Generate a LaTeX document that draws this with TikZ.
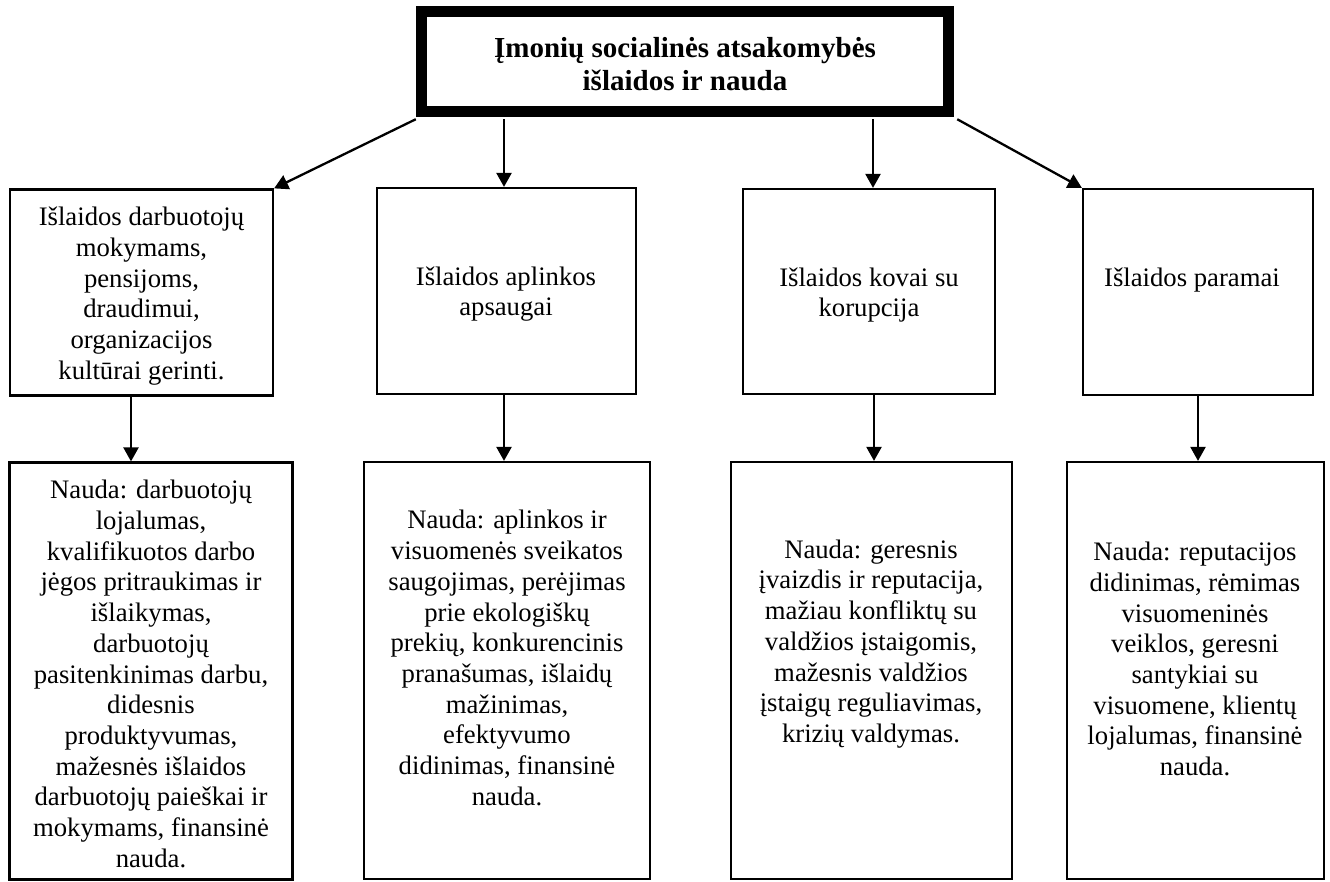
\documentclass[tikz,border=0pt]{standalone}
\usepackage{fontspec}
\setmainfont{Liberation Serif}
\usetikzlibrary{arrows.meta,calc}
\tikzset{
  boxnode/.style={draw, line width=2.2pt, inner sep=0pt, rectangle},
  topbox/.style={draw, line width=11.5pt, inner sep=0pt, rectangle},
  txt/.style={inner sep=0pt, align=center, font=\fontsize{26.7}{30.7}\selectfont},
  ttl/.style={inner sep=0pt, align=center, font=\bfseries\fontsize{29}{33.5}\selectfont},
  arr/.style={line width=2.3pt, -{Triangle[length=14pt,width=15pt]}}
}
\begin{document}
\begin{tikzpicture}[x=1pt,y=-1pt]
\useasboundingbox[fill=white] (0,0) rectangle (1330,882);
% top box
\node[topbox, minimum width=527pt, minimum height=100pt] (top) at (685,61.5) {};
\node[ttl] (ttl) at (685,64) {Įmonių socialinės atsakomybės\\išlaidos ir nauda};
% first row
\node[boxnode, minimum width=263pt, minimum height=206pt] (b1) at (141.5,292.5) {};
\node[boxnode, minimum width=259pt, minimum height=206pt] (b2) at (506.5,291) {};
\node[boxnode, minimum width=252pt, minimum height=205pt] (b3) at (869,291.5) {};
\node[boxnode, minimum width=230pt, minimum height=206pt] (b4) at (1198,292) {};
% second row
\node[boxnode, minimum width=283pt, minimum height=417pt] (b5) at (151,671) {};
\node[boxnode, minimum width=286pt, minimum height=417pt] (b6) at (507,670.5) {};
\node[boxnode, minimum width=281pt, minimum height=417pt] (b7) at (871.5,670.5) {};
\node[boxnode, minimum width=257pt, minimum height=417pt] (b8) at (1195.5,670.5) {};
% texts
\node[txt] (t1) at (141.5,296) {Išlaidos darbuotojų\\mokymams,\\pensijoms,\\draudimui,\\organizacijos\\kultūrai gerinti.};
\node[txt] (t2) at (506,294) {Išlaidos aplinkos\\apsaugai};
\node[txt] (t3) at (869,295) {Išlaidos kovai su\\korupcija};
\node[txt] (t4) at (1192,280) {Išlaidos paramai};
\node[txt] (t5) at (151,674) {Nauda: darbuotojų\\lojalumas,\\kvalifikuotos darbo\\jėgos pritraukimas ir\\išlaikymas,\\darbuotojų\\pasitenkinimas darbu,\\didesnis\\produktyvumas,\\mažesnės išlaidos\\darbuotojų paieškai ir\\mokymams, finansinė\\nauda.};
\node[txt] (t6) at (507,658) {Nauda: aplinkos ir\\visuomenės sveikatos\\saugojimas, perėjimas\\prie ekologiškų\\prekių, konkurencinis\\pranašumas, išlaidų\\mažinimas,\\efektyvumo\\didinimas, finansinė\\nauda.};
\node[txt] (t7) at (871,644) {Nauda: geresnis\\įvaizdis ir reputacija,\\mažiau konfliktų su\\valdžios įstaigomis,\\mažesnis valdžios\\įstaigų reguliavimas,\\krizių valdymas.};
\node[txt] (t8) at (1195,659) {Nauda: reputacijos\\didinimas, rėmimas\\visuomeninės\\veiklos, geresni\\santykiai su\\visuomene, klientų\\lojalumas, finansinė\\nauda.};
% arrows from top
\draw[arr] ([yshift=-2pt]top.south west) -- (b1.north east);
\draw[arr] ([xshift=-2.5pt]b2.north |- top.south) ++(0,2) -- ([xshift=-2.5pt]b2.north);
\draw[arr] ([xshift=4pt]b3.north |- top.south) ++(0,2) -- ([xshift=4pt]b3.north);
\draw[arr] ([yshift=-2pt,xshift=3pt]top.south east) -- (b4.north west);
% arrows down
\draw[arr] ([xshift=-10.5pt]b1.south) -- ([xshift=-10.5pt]b1.south |- b5.north);
\draw[arr] ([xshift=-2.5pt]b2.south) -- ([xshift=-2.5pt]b2.south |- b6.north);
\draw[arr] ([xshift=5pt]b3.south) -- ([xshift=5pt]b3.south |- b7.north);
\draw[arr] (b4.south) -- (b4.south |- b8.north);
\end{tikzpicture}
\end{document}
